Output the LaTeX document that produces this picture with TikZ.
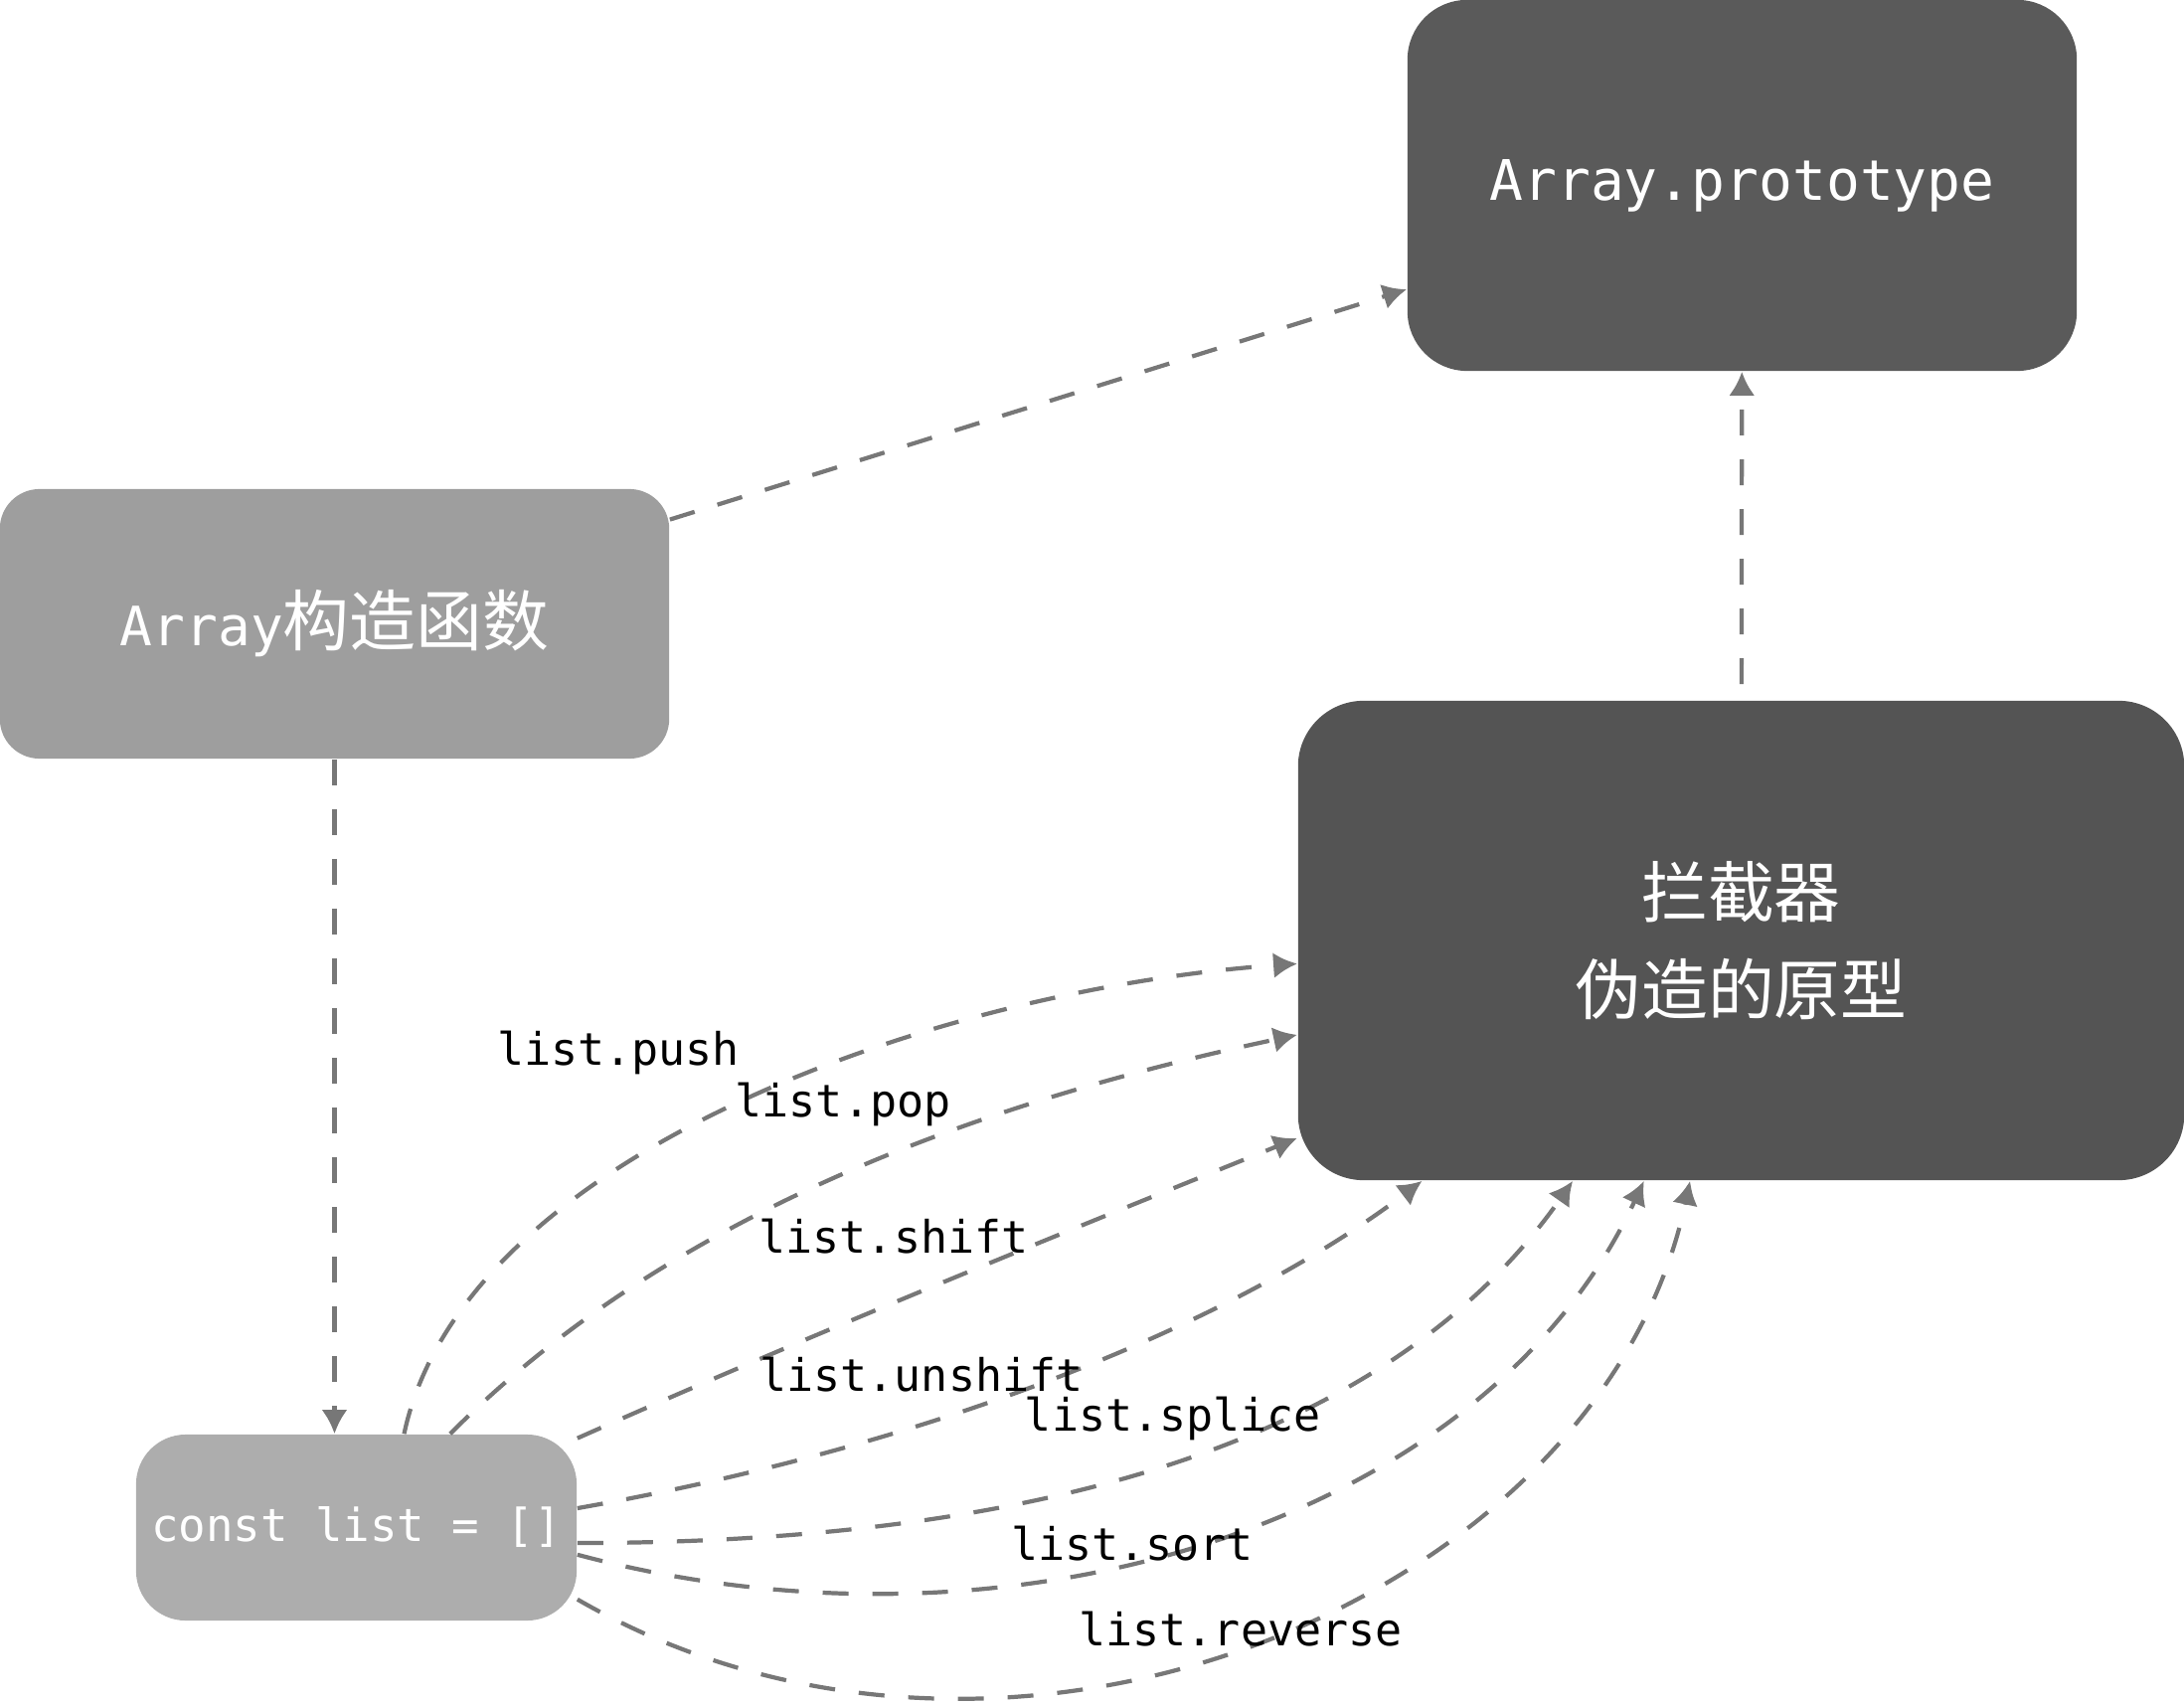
\documentclass[tikz,border=0pt]{standalone}
\usepackage{fontspec}
\setmonofont{DejaVu Sans Mono}
\newfontfamily\cjk{Noto Sans CJK SC}
\usetikzlibrary{arrows.meta}
\definecolor{protogray}{HTML}{5A5A5A}
\definecolor{langray}{HTML}{545454}
\definecolor{ctorgray}{HTML}{9E9E9E}
\definecolor{listgray}{HTML}{ADADAD}
\definecolor{linkgray}{HTML}{777777}
\begin{document}
\begin{tikzpicture}[x=0.01cm, y=0.01cm]
\tikzstyle{every node}+=[inner sep=0pt]
\tikzstyle{gbox}=[rectangle, text=white, align=center]
\tikzstyle{dashlink}=[draw=linkgray, line width=1.2pt, dash pattern=on 0.26cm off 0.24cm, -{Latex[length=0.24cm,width=0.26cm]}]
\tikzstyle{oplabel}=[font=\fontsize{12.8}{15}\selectfont\ttfamily, anchor=base]
\useasboundingbox (0,0) rectangle (2197,-1716);
\node [gbox, fill=protogray, minimum width=6.73cm, minimum height=3.73cm, rounded corners=0.6cm, font=\fontsize{16}{19}\selectfont\ttfamily] (proto) at (1752.5,-186.5) {Array.prototype};
\node [gbox, fill=ctorgray, minimum width=6.73cm, minimum height=2.71cm, rounded corners=0.4cm] (ctor) at (336.5,-627.5) {{\fontsize{15.5}{19}\selectfont\ttfamily Array}{\fontsize{19}{23}\selectfont\cjk 构造函数}};
\node [gbox, fill=langray, minimum width=8.91cm, minimum height=4.82cm, rounded corners=0.66cm, font=\fontsize{19}{28}\selectfont\cjk] (lan) at (1751.5,-946) {拦截器\\伪造的原型};
\node [gbox, fill=listgray, minimum width=4.43cm, minimum height=1.87cm, rounded corners=0.5cm, font=\fontsize{13}{15}\selectfont\ttfamily] (cl) at (358.5,-1536.5) {const list = []};
\draw [dashlink] (ctor) -- (proto);
\draw [dashlink, shorten <=0.16cm] (lan) -- (proto);
\draw [dashlink] (ctor.south) -- (ctor.south |- cl.north);
\draw [dashlink] (cl.63) .. controls +(78:290) and +(184:357) .. (lan.183);
\draw [dashlink] (cl.45) .. controls +(45:300) and +(192:350) .. (lan.192);
\draw [dashlink] (cl.22) .. controls +(24:250) and +(202:250) .. (lan.204);
\draw [dashlink] (cl.5) .. controls +(10:350) and +(217:250) .. (lan.217);
\draw [dashlink] (cl.356) .. controls +(0:500) and +(235:300) .. (lan.235);
\draw [dashlink] (cl.353) .. controls +(-15:450) and +(245:380) .. (lan.248);
\draw [dashlink] (cl.342) .. controls +(-30:500) and +(258:430) .. (lan.258);
\node [oplabel] (lpush) at (622,-1071) {list.push};
\node [oplabel] (lpop) at (848,-1123) {list.pop};
\node [oplabel] (lshift) at (899,-1260) {list.shift};
\node [oplabel] (lunshift) at (927,-1399) {list.unshift};
\node [oplabel] (lsplice) at (1180,-1439) {list.splice};
\node [oplabel] (lsort) at (1139,-1569) {list.sort};
\node [oplabel] (lreverse) at (1248,-1655) {list.reverse};
\end{tikzpicture}
\end{document}
